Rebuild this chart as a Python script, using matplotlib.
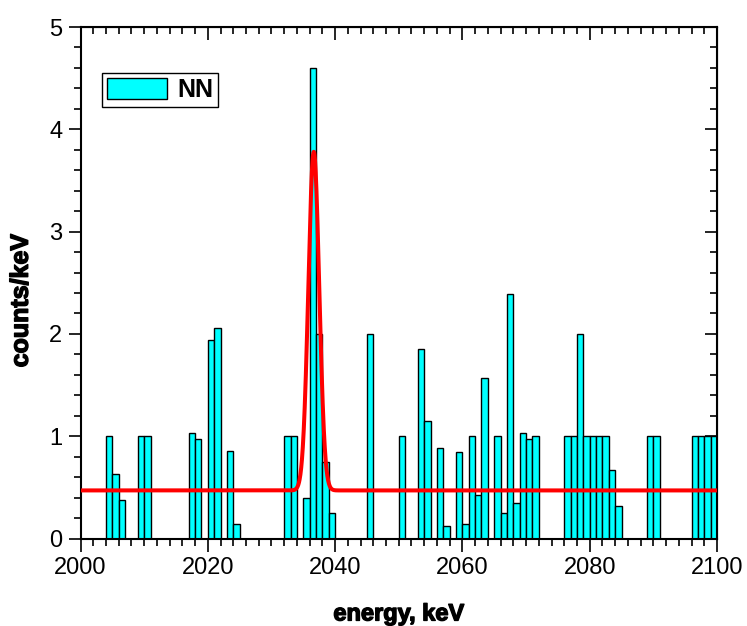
import matplotlib
matplotlib.use("Agg")
import matplotlib.pyplot as plt
import matplotlib.patheffects as pe
from matplotlib.ticker import MultipleLocator
import numpy as np

plt.rcParams['font.family'] = ['Liberation Sans', 'DejaVu Sans']

# spectrum, 1 keV bins: left edge of each non-empty bin and its rate
bin_start = [2004, 2005, 2006, 2009, 2010, 2017, 2018, 2020, 2021, 2023, 2024,
             2032, 2033, 2035, 2036, 2037, 2038, 2039, 2045, 2050, 2053, 2054,
             2056, 2057, 2059, 2060, 2061, 2062, 2063, 2065, 2066, 2067, 2068,
             2069, 2070, 2071, 2076, 2077, 2078, 2079, 2080, 2081, 2082, 2083,
             2084, 2089, 2090, 2096, 2097, 2098, 2099]
counts = [1.0, 0.63, 0.375, 1.0, 1.0, 1.03, 0.97, 1.94, 2.06, 0.86, 0.14,
          1.0, 1.0, 0.40, 4.6, 2.0, 0.75, 0.25, 2.0, 1.0, 1.85, 1.15,
          0.88, 0.12, 0.85, 0.14, 1.0, 0.43, 1.57, 1.0, 0.25, 2.39, 0.35,
          1.03, 0.97, 1.0, 1.0, 1.0, 2.0, 1.0, 1.0, 1.0, 1.0, 0.67,
          0.32, 1.0, 1.0, 1.0, 1.0, 1.0, 1.0]

# fit: flat background + gaussian line
fit_bkg = 0.47
fit_amp = 3.31
fit_center = 2036.65
fit_sigma = 0.85

x_ticks = [2000, 2020, 2040, 2060, 2080, 2100]
y_ticks = [0, 1, 2, 3, 4, 5]

fig = plt.figure(figsize=(7.47, 6.26), dpi=100)
ax = fig.add_axes([80.5 / 747, 1 - 538.5 / 626, (717 - 80.5) / 747, (538.5 - 27) / 626])

ax.bar(bin_start, counts, width=1.0, align='edge', color='#00FFFF',
       edgecolor='black', linewidth=1.0, label='NN', zorder=2)

xf = np.linspace(2000, 2100, 4001)
yf = fit_bkg + fit_amp * np.exp(-0.5 * ((xf - fit_center) / fit_sigma) ** 2)
ax.plot(xf, yf, color='#FF0000', linewidth=2.9, zorder=3, solid_capstyle='butt')

ax.set_xlim(2000, 2100)
ax.set_ylim(0, 5)
ax.set_xticks(x_ticks)
ax.set_yticks(y_ticks)
ax.xaxis.set_minor_locator(MultipleLocator(2))
ax.yaxis.set_minor_locator(MultipleLocator(0.2))
ax.tick_params(which='both', direction='out', labelsize=17, width=1.2, pad=4)
ax.tick_params(which='major', length=9)
ax.tick_params(which='minor', length=5)
for s in ax.spines.values():
    s.set_linewidth(1.5)

# inward ticks on the top and right frame
top = ax.secondary_xaxis('top')
top.set_xticks(x_ticks)
top.xaxis.set_minor_locator(MultipleLocator(2))
top.tick_params(which='both', direction='in', labeltop=False, width=1.2)
top.tick_params(which='major', length=9)
top.tick_params(which='minor', length=5)
right = ax.secondary_yaxis('right')
right.set_yticks(y_ticks)
right.yaxis.set_minor_locator(MultipleLocator(0.2))
right.tick_params(which='both', direction='in', labelright=False, width=1.2)
right.tick_params(which='major', length=9)
right.tick_params(which='minor', length=5)

heavy = [pe.withStroke(linewidth=1.0, foreground='black')]
ax.set_xlabel('energy, keV', fontsize=17, fontweight='bold', path_effects=heavy)
ax.xaxis.set_label_coords(0.5, -0.125)
ax.set_ylabel('counts/keV', fontsize=18, fontweight='bold', path_effects=heavy)
ax.yaxis.set_label_coords(-0.075, 0.465)

leg = ax.legend(loc='upper left', bbox_to_anchor=(0.034, 0.91),
                prop={'weight': 'bold', 'size': 18}, fancybox=False,
                edgecolor='black', framealpha=1, handlelength=2.4,
                handleheight=0.9, handletextpad=0.4, borderpad=0.2,
                borderaxespad=0)
leg.get_frame().set_linewidth(1.0)

fig.savefig('out.png', dpi=100)
